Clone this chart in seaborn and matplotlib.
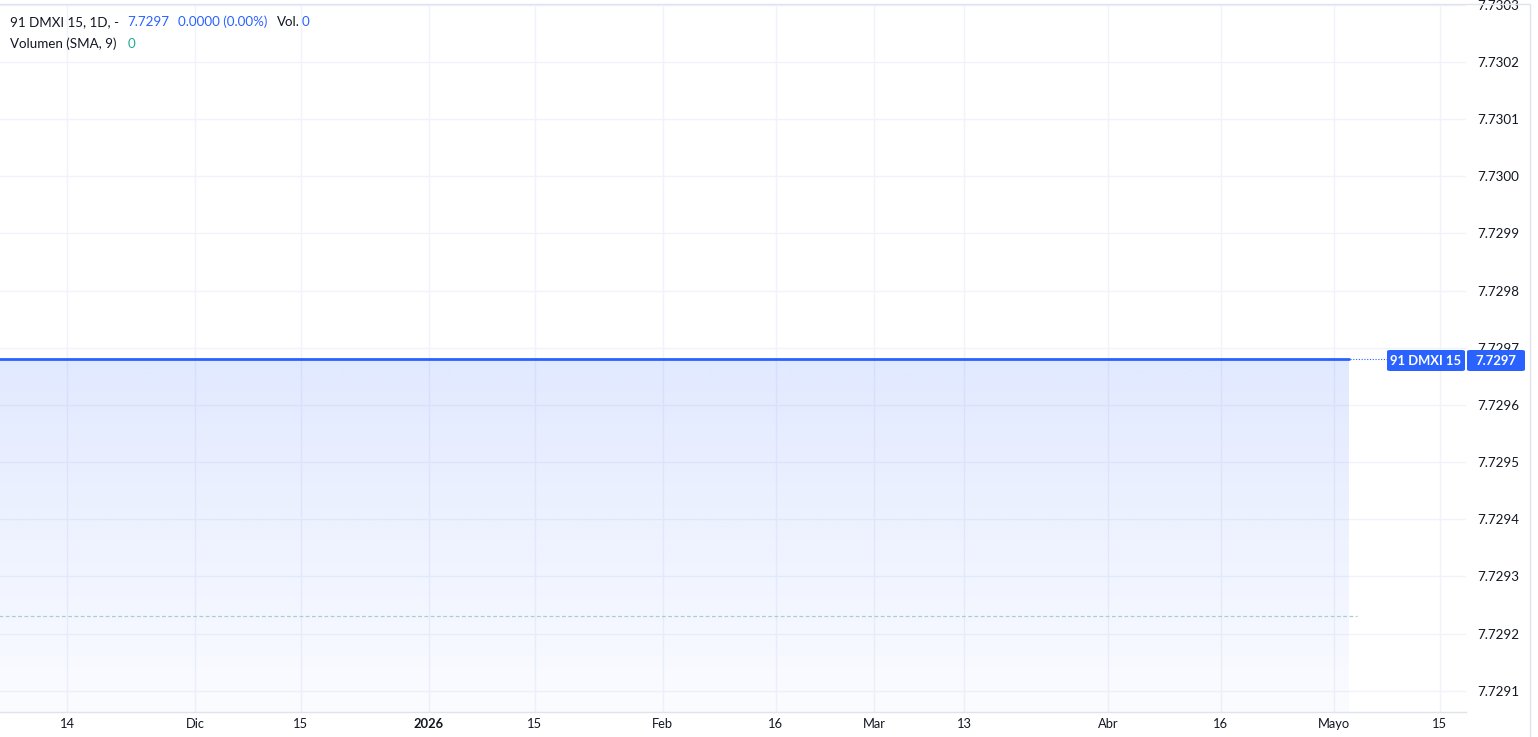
import numpy as np
import pandas as pd
import matplotlib
matplotlib.use("Agg")
import matplotlib.pyplot as plt
import matplotlib.dates as mdates
import matplotlib.transforms as mtransforms
from matplotlib.patches import FancyBboxPatch
import seaborn as sns

# ---------------- data ----------------
price_dates = ["2025-11-01", "2026-05-03"]
price_values = [7.72968, 7.72968]
sma_dates = ["2025-11-01", "2026-05-04"]
sma_values = [7.72923, 7.72923]
ytick_values = [7.7291, 7.7292, 7.7293, 7.7294, 7.7295, 7.7296, 7.7297,
                7.7298, 7.7299, 7.7300, 7.7301, 7.7302, 7.7303]
xtick_dates = ["2025-11-14", "2025-12-01", "2025-12-15", "2026-01-01", "2026-01-15",
               "2026-02-01", "2026-02-16", "2026-03-01", "2026-03-13", "2026-04-01",
               "2026-04-16", "2026-05-01", "2026-05-15"]
xtick_labels = ["14", "Dic", "15", "2026", "15", "Feb", "16", "Mar", "13", "Abr",
                "16", "Mayo", "15"]
last_price_label = "7.7297"
symbol = "91 DMXI 15"

W, H = 1538, 737
BLUE = "#2962FF"
TXT = "#131722"
GRID = "#f0f3fa"

sns.set_theme(style="white")
plt.rcParams["font.family"] = ["Lato", "DejaVu Sans"]

df = pd.DataFrame({"date": pd.to_datetime(price_dates), "value": price_values})
sma = pd.DataFrame({"date": pd.to_datetime(sma_dates), "value": sma_values})

fig = plt.figure(figsize=(W / 100, H / 100), dpi=100)
fig.patch.set_facecolor("white")
ax = fig.add_axes([0, (H - 712) / H, 1466 / W, (712 - 4) / H])

xmin = pd.Timestamp("2025-11-05 03:00")
xmax = pd.Timestamp("2026-05-18 12:00")
ymin, ymax = 7.729063, 7.730301

# gradient area under line
poly = ax.fill_between(df["date"], df["value"], ymin, facecolor="none", edgecolor="none")
x0 = mdates.date2num(df["date"].iloc[0])
x1 = mdates.date2num(df["date"].iloc[-1])
n = 256
grad = np.zeros((n, 1, 4))
rgb = matplotlib.colors.to_rgb(BLUE)
grad[:, 0, 0:3] = rgb
grad[:, 0, 3] = np.linspace(0.14, 0.02, n)
im = ax.imshow(grad, extent=[x0, x1, ymin, df["value"].iloc[0]], aspect="auto",
               origin="upper", zorder=1, interpolation="bilinear")
im.set_clip_path(poly.get_paths()[0], transform=ax.transData)

sns.lineplot(data=df, x="date", y="value", ax=ax, color=BLUE, linewidth=2.0, zorder=3)
sns.lineplot(data=sma, x="date", y="value", ax=ax, color="#a9cfc9", linewidth=0.9,
             linestyle=(0, (3, 2)), zorder=2)

ax.set_xlim(xmin, xmax)
ax.set_ylim(ymin, ymax)
ax.set_xlabel("")
ax.set_ylabel("")

ax.set_xticks(pd.to_datetime(xtick_dates))
ax.set_xticklabels(xtick_labels)
for lbl in ax.get_xticklabels():
    if lbl.get_text() == "2026":
        lbl.set_fontweight("bold")
ax.tick_params(axis="x", length=0, pad=4, labelsize=9.3, labelcolor=TXT)

ax.yaxis.tick_right()
ax.set_yticks(ytick_values)
ax.set_yticklabels([f"{v:.4f}" for v in ytick_values])
ax.tick_params(axis="y", length=0, pad=8, labelsize=9.6, labelcolor=TXT)

ax.grid(True, color=GRID, linewidth=1.0, zorder=0)
ax.set_axisbelow(True)
for s in ["left", "right", "top"]:
    ax.spines[s].set_visible(False)
ax.spines["bottom"].set_color("#e0e3eb")
ax.spines["bottom"].set_linewidth(1.0)

# dotted connector to price label
trans = mtransforms.blended_transform_factory(ax.transAxes, ax.transData)
ax.plot([1350 / 1466, 1387 / 1466], [price_values[-1]] * 2, transform=trans,
        color=BLUE, linewidth=0.8, linestyle=(0, (1, 1.5)), zorder=3, clip_on=False)

def fx(px):
    return px / W

def fy(py):
    return 1 - py / H

# price label boxes
for (l, r, txt) in [(1387, 1465, symbol), (1467, 1525, last_price_label)]:
    box = FancyBboxPatch((fx(l), fy(371)), fx(r) - fx(l), fy(350) - fy(371),
                         boxstyle="round,pad=0,rounding_size=0.002",
                         transform=fig.transFigure, facecolor=BLUE, edgecolor="none",
                         zorder=10)
    fig.patches.append(box)
    fig.text(fx((l + r) / 2), fy(361), txt, color="white", fontsize=9.4,
             fontweight="bold", ha="center", va="center", zorder=11)

# frame lines
fig.add_artist(plt.Line2D([0, fx(1530)], [fy(4), fy(4)], transform=fig.transFigure,
                          color="#e0e3eb", linewidth=1.0))
fig.add_artist(plt.Line2D([fx(1530), fx(1530)], [fy(4), 0], transform=fig.transFigure,
                          color="#e0e3eb", linewidth=1.0))

# legend texts
fs = 9.6
pieces1 = [(10, "91 DMXI 15, 1D, -", TXT), (127, "7.7297", BLUE),
           (178, "0.0000 (0.00%)", BLUE), (277, "Vol.", TXT), (302, "0", BLUE)]
for x, t, c in pieces1:
    fig.text(fx(x), fy(22), t, color=c, fontsize=fs, ha="left", va="center")
pieces2 = [(10, "Volumen (SMA, 9)", TXT), (128, "0", "#22ab94")]
for x, t, c in pieces2:
    fig.text(fx(x), fy(44), t, color=c, fontsize=fs, ha="left", va="center")

fig.savefig("out.png", dpi=100, facecolor="white")
